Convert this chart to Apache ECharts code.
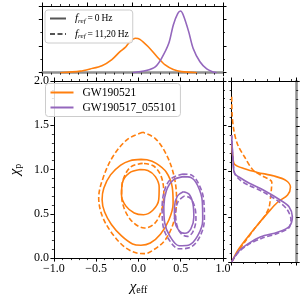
<!DOCTYPE html>
<html><head><meta charset="utf-8">
<script src="https://cdn.jsdelivr.net/npm/echarts@6/dist/echarts.min.js"></script>
<style>html,body{margin:0;padding:0;background:#fff}#c{width:304px;height:300px}</style>
</head><body><div id="c"></div>
<script>
// ---------- data ----------
const xTickLabels = ['−1.0', '−0.5', '0.0', '0.5', '1.0'];
const yTickLabels = ['0.0', '0.5', '1.0', '1.5', '2.0'];
const eventNames = ['GW190521', 'GW190517_055101'];
const frefNames = ['fref0', 'fref1'];
const frefLabels = ['0\u2009Hz', '11,20\u2009Hz'];

// contours in (chi_eff, chi_p)
const orangeSolidOuter = [[0.03,1.115],[-0.10,1.10],[-0.21,1.05],[-0.33,0.94],[-0.41,0.79],[-0.43,0.66],[-0.40,0.52],[-0.32,0.38],[-0.20,0.25],[-0.07,0.16],[0.03,0.145],[0.14,0.17],[0.26,0.27],[0.36,0.43],[0.41,0.62],[0.40,0.80],[0.33,0.97],[0.21,1.07],[0.10,1.11],[0.03,1.115]];
const orangeSolidInner = [[0.02,1.00],[-0.11,0.96],[-0.19,0.85],[-0.20,0.71],[-0.15,0.59],[-0.05,0.51],[0.06,0.49],[0.17,0.54],[0.24,0.66],[0.245,0.80],[0.20,0.92],[0.11,0.99],[0.02,1.00]];
const orangeDashedOuter = [[0.05,1.42],[-0.13,1.34],[-0.30,1.15],[-0.42,0.90],[-0.47,0.68],[-0.43,0.48],[-0.32,0.29],[-0.17,0.13],[-0.03,0.06],[0.07,0.05],[0.19,0.10],[0.32,0.21],[0.42,0.42],[0.45,0.68],[0.42,0.93],[0.33,1.17],[0.20,1.35],[0.05,1.42]];
const orangeDashedInner = [[0.05,1.07],[-0.09,1.03],[-0.18,0.89],[-0.20,0.72],[-0.16,0.54],[-0.06,0.40],[0.07,0.34],[0.19,0.39],[0.27,0.53],[0.30,0.72],[0.27,0.92],[0.18,1.04],[0.05,1.07]];
const purpleSolidOuter = [[0.53,0.92],[0.41,0.88],[0.33,0.76],[0.30,0.58],[0.31,0.40],[0.37,0.25],[0.48,0.14],[0.59,0.145],[0.70,0.25],[0.76,0.43],[0.755,0.64],[0.70,0.82],[0.62,0.91],[0.53,0.92]];
const purpleDashedOuter = [[0.53,0.95],[0.39,0.90],[0.31,0.77],[0.28,0.57],[0.29,0.37],[0.36,0.21],[0.48,0.105],[0.61,0.12],[0.72,0.23],[0.78,0.44],[0.77,0.67],[0.70,0.86],[0.62,0.94],[0.53,0.95]];
const purpleSolidInner = [[0.53,0.75],[0.46,0.70],[0.425,0.57],[0.43,0.42],[0.48,0.31],[0.55,0.28],[0.62,0.33],[0.655,0.46],[0.645,0.61],[0.60,0.72],[0.53,0.75]];
const purpleDashedInner = [[0.54,0.70],[0.47,0.64],[0.44,0.51],[0.455,0.37],[0.51,0.27],[0.58,0.245],[0.645,0.30],[0.68,0.44],[0.665,0.58],[0.61,0.68],[0.54,0.70]];

// chi_eff marginal densities
const chiEffOrange = [-0.80,-0.58,-0.47,-0.34,-0.23,-0.14,-0.085,-0.03,0.03,0.08,0.17,0.27,0.36,0.45,0.54,0.71];
const densEffOrange = [0,0.06,0.14,0.26,0.49,0.79,0.94,1.16,1.29,1.25,0.98,0.60,0.29,0.12,0.04,0];
const chiEffPurple = [0.00,0.15,0.25,0.32,0.40,0.45,0.50,0.53,0.56,0.62,0.67,0.745,0.82,0.89,0.93];
const densEffPurple = [0,0.08,0.22,0.54,1.10,1.79,2.22,2.31,2.16,1.54,0.91,0.41,0.14,0.03,0];

// chi_p marginal densities
const chiPOrangeSolid = [0.0,0.13,0.28,0.41,0.54,0.66,0.74,0.83,0.90,0.95,0.99,1.03,1.08,1.18,1.30];
const densPOrangeSolid = [0,0.13,0.34,0.54,0.75,0.96,1.17,1.23,1.14,0.89,0.54,0.27,0.06,0.02,0];
const chiPOrangeDashed = [0.0,0.09,0.24,0.39,0.50,0.60,0.70,0.80,0.88,0.96,1.02,1.16,1.29,1.44,1.62,1.85];
const densPOrangeDashed = [0,0.10,0.30,0.51,0.68,0.78,0.81,0.83,0.84,0.61,0.44,0.27,0.13,0.05,0.01,0];
const chiPPurpleSolid = [0.0,0.11,0.20,0.28,0.33,0.39,0.50,0.61,0.68,0.79,0.87,0.92,0.98,1.11,1.40];
const densPPurpleSolid = [0,0.13,0.34,0.61,0.96,1.20,1.27,1.20,1.03,0.68,0.37,0.21,0.06,0.03,0];
const chiPPurpleDashed = [0.0,0.10,0.19,0.26,0.32,0.38,0.47,0.58,0.67,0.78,0.85,0.90,0.97,1.10,1.40];
const densPPurpleDashed = [0,0.13,0.34,0.62,0.98,1.20,1.24,1.16,0.98,0.64,0.35,0.19,0.07,0.03,0];

// ---------- styling ----------
const FONT = 'Liberation Serif';
const ORANGE = '#ff7f0e', PURPLE = '#9467bd', GREY = '#555555';
const LW = 1.6, DASH = [5, 2.5];

function zip(a, b) { return a.map((v, i) => [v, b[i]]); }

function ax(gridIndex, position, min, max, interval, minorSplit, opts) {
  opts = opts || {};
  return Object.assign({
    type: 'value', gridIndex, position, min, max, interval,
    axisLine: { show: true, onZero: false, lineStyle: { color: opts.lineColor || '#000', width: opts.lineWidth || 1 } },
    axisTick: { show: true, inside: false, length: 3.5, lineStyle: { color: '#000', width: 1 } },
    minorTick: { show: true, splitNumber: minorSplit, length: 2, lineStyle: { color: '#000', width: 0.8 } },
    splitLine: { show: false }, minorSplitLine: { show: false },
    axisLabel: { show: false }
  }, opts.extra || {});
}

const labelStyle = { fontFamily: FONT, fontSize: 12, color: '#000' };

const xAxes = [
  ax(0, 'bottom', -1, 1, 0.5, 5, { extra: {
    axisLabel: Object.assign({ show: true, margin: 5, formatter: (v) => xTickLabels[Math.round((v + 1) / 0.5)] }, labelStyle),
    name: '{c|χ}{s|eff}', nameLocation: 'middle', nameGap: 21,
    nameTextStyle: { rich: { c: { fontFamily: FONT, fontSize: 15, fontStyle: 'italic', color: '#000' }, s: { fontFamily: FONT, fontSize: 10, color: '#000', padding: [5, 0, 0, 0] } } }
  }}),
  ax(0, 'top', -1, 1, 0.5, 5),
  ax(1, 'bottom', -1, 1, 0.5, 5, { lineColor: '#8f8f8f', lineWidth: 2.5 }),
  ax(1, 'top', -1, 1, 0.5, 5),
  ax(2, 'bottom', 0, 1.35, 1, 4),
  ax(2, 'top', 0, 1.35, 1, 4)
];
const yAxes = [
  ax(0, 'left', 0, 2, 0.5, 5, { extra: {
    axisLabel: Object.assign({ show: true, margin: 5, formatter: (v) => yTickLabels[Math.round(v / 0.5)] }, labelStyle),
    name: '{c|χ}{s|p}', nameLocation: 'middle', nameGap: 26, nameRotate: 90,
    nameTextStyle: { rich: { c: { fontFamily: FONT, fontSize: 15, fontStyle: 'italic', color: '#000' }, s: { fontFamily: FONT, fontSize: 10, color: '#000', padding: [5, 0, 0, 0] } } }
  }}),
  ax(0, 'right', 0, 2, 0.5, 5),
  ax(1, 'left', 0, 2.5, 1, 2),
  ax(1, 'right', 0, 2.5, 1, 2),
  ax(2, 'left', 0, 2, 0.5, 5),
  ax(2, 'right', 0, 2, 0.5, 5, { lineColor: '#8f8f8f', lineWidth: 2.5 })
];

function contour(name, data, color, dashed) {
  return { type: 'line', name, xAxisIndex: 0, yAxisIndex: 0, data, smooth: 0.35, symbol: 'none', showSymbol: false,
    lineStyle: { color, width: LW, type: dashed ? DASH : 'solid' }, itemStyle: { color }, silent: true, animation: false };
}
function marg(name, data, color, dashed, xi, yi) {
  return { type: 'line', name, xAxisIndex: xi, yAxisIndex: yi, data, smooth: 0.3, symbol: 'none', showSymbol: false,
    lineStyle: { color, width: LW, type: dashed ? DASH : 'solid' }, itemStyle: { color }, silent: true, animation: false };
}

const series = [
  contour(eventNames[0], orangeSolidOuter, ORANGE, false),
  contour('os2', orangeSolidInner, ORANGE, false),
  contour('od1', orangeDashedOuter, ORANGE, true),
  contour('od2', orangeDashedInner, ORANGE, true),
  contour(eventNames[1], purpleSolidOuter, PURPLE, false),
  contour('ps2', purpleSolidInner, PURPLE, false),
  contour('pd1', purpleDashedOuter, PURPLE, true),
  contour('pd2', purpleDashedInner, PURPLE, true),
  marg('effO', zip(chiEffOrange, densEffOrange), ORANGE, false, 2, 2),
  marg('effP', zip(chiEffPurple, densEffPurple), PURPLE, false, 2, 2),
  marg(frefNames[0], [], GREY, false, 2, 2),
  marg(frefNames[1], [], GREY, true, 2, 2),
  marg('pO', zip(densPOrangeSolid, chiPOrangeSolid), ORANGE, false, 4, 4),
  marg('pOd', zip(densPOrangeDashed, chiPOrangeDashed), ORANGE, true, 4, 4),
  marg('pP', zip(densPPurpleSolid, chiPPurpleSolid), PURPLE, false, 4, 4),
  marg('pPd', zip(densPPurpleDashed, chiPPurpleDashed), PURPLE, true, 4, 4)
];

const legendBase = {
  orient: 'vertical', itemWidth: 23, itemHeight: 9, itemGap: 3, selectedMode: false,
  itemStyle: { opacity: 0 },
  backgroundColor: 'rgba(255,255,255,0.85)', borderColor: '#cccccc', borderWidth: 1, borderRadius: 3,
  padding: [3, 4, 3, 4],
  textStyle: { fontFamily: FONT, fontSize: 11.5, color: '#000', padding: [0, 0, 0, 4] }
};

const option = {
  animation: false,
  backgroundColor: '#fff',
  grid: [
    { left: 42.3, top: 81, width: 180.7, height: 181 },
    { left: 42.3, top: 6, width: 180.7, height: 66.7 },
    { left: 231.7, top: 81, width: 64.5, height: 181 }
  ],
  xAxis: xAxes,
  yAxis: yAxes,
  legend: [
    Object.assign({}, legendBase, {
      left: 45, top: 10, data: frefNames, itemGap: 4, itemWidth: 16,
      formatter: (n) => '{i|f}{s|ref}{t|\u2009=\u2009' + frefLabels[frefNames.indexOf(n)] + '}',
      textStyle: Object.assign({}, legendBase.textStyle, { rich: {
        i: { fontFamily: FONT, fontSize: 11, fontStyle: 'italic', color: '#000' },
        s: { fontFamily: FONT, fontSize: 7, fontStyle: 'italic', color: '#000', padding: [5, 0, 0, 0] },
        t: { fontFamily: FONT, fontSize: 9.5, color: '#000' }
      } })
    }),
    Object.assign({}, legendBase, { left: 45.5, top: 83.5, data: eventNames })
  ],
  series
};

const chart = echarts.init(document.getElementById('c'), null, { renderer: 'canvas' });
chart.setOption(option);
</script></body></html>
